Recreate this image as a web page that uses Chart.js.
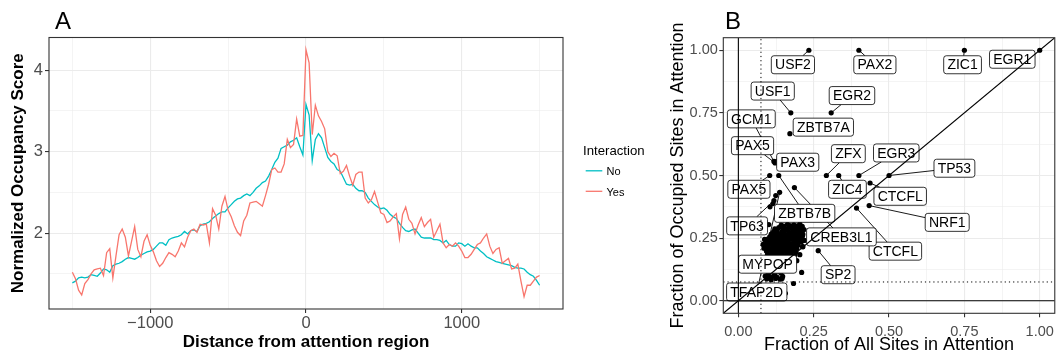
<!DOCTYPE html>
<html>
<head>
<meta charset="utf-8">
<script src="https://cdn.jsdelivr.net/npm/chart.js@4.4.1/dist/chart.umd.min.js"></script>
<style>
    html, body { margin: 0; padding: 0; background: #fff; }
    #wrap-a { position: absolute; left: 0; top: 0; width: 660px; height: 356px; }
    #wrap-b { position: absolute; left: 660px; top: 0; width: 400px; height: 356px; }
</style>
</head>
<body>
<div id="wrap-a"><canvas id="chart-occupancy"></canvas></div>
<div id="wrap-b"><canvas id="chart-fraction"></canvas></div>
<script>
const FONT = "'Liberation Sans', Arial, Helvetica, sans-serif";

// ---- panel A: occupancy around attention regions ----
const distance = [
    -1500, -1480, -1460, -1440, -1420, -1400, -1380, -1360, -1340, -1320,
    -1300, -1280, -1260, -1240, -1220, -1200, -1180, -1160, -1140, -1120,
    -1100, -1080, -1060, -1040, -1020, -1000, -980, -960, -940, -920,
    -900, -880, -860, -840, -820, -800, -780, -760, -740, -720,
    -700, -680, -660, -640, -620, -600, -580, -560, -540, -520,
    -500, -480, -460, -440, -420, -400, -380, -360, -340, -320,
    -300, -280, -260, -240, -220, -200, -180, -160, -140, -120,
    -100, -80, -60, -40, -20, 0, 20, 40, 60, 80,
    100, 120, 140, 160, 180, 200, 220, 240, 260, 280,
    300, 320, 340, 360, 380, 400, 420, 440, 460, 480,
    500, 520, 540, 560, 580, 600, 620, 640, 660, 680,
    700, 720, 740, 760, 780, 800, 820, 840, 860, 880,
    900, 920, 940, 960, 980, 1000, 1020, 1040, 1060, 1080,
    1100, 1120, 1140, 1160, 1180, 1200, 1220, 1240, 1260, 1280,
    1300, 1320, 1340, 1360, 1380, 1400, 1420, 1440, 1460, 1480,
    1500
];
const occupancyNo = [
    1.39, 1.41, 1.45, 1.46, 1.45, 1.46, 1.49, 1.48, 1.47, 1.51,
    1.56, 1.55, 1.52, 1.60, 1.62, 1.63, 1.65, 1.68, 1.70, 1.69,
    1.68, 1.70, 1.73, 1.75, 1.77, 1.78, 1.80, 1.84, 1.88, 1.88,
    1.85, 1.92, 1.94, 1.95, 1.96, 1.98, 2.02, 1.99, 2.03, 2.04,
    2.02, 2.09, 2.11, 2.12, 2.14, 2.18, 2.21, 2.24, 2.26, 2.26,
    2.31, 2.35, 2.39, 2.42, 2.43, 2.46, 2.48, 2.46, 2.50, 2.55,
    2.58, 2.62, 2.64, 2.70, 2.78, 2.87, 2.92, 3.04, 3.06, 3.08,
    3.12, 3.14, 3.17, 3.06, 2.96, 3.58, 3.45, 2.89, 3.15, 3.22,
    3.17, 3.05, 2.93, 2.88, 2.85, 2.78, 2.76, 2.68, 2.60, 2.59,
    2.60, 2.55, 2.52, 2.52, 2.50, 2.43, 2.39, 2.35, 2.32, 2.30,
    2.31, 2.28, 2.23, 2.20, 2.18, 2.12, 2.07, 2.03, 2.02, 2.04,
    2.05, 2.00, 1.95, 1.94, 1.94, 1.94, 1.92, 1.92, 1.91, 1.88,
    1.91, 1.86, 1.84, 1.84, 1.88, 1.87, 1.84, 1.87, 1.84, 1.82,
    1.82, 1.78, 1.75, 1.71, 1.69, 1.67, 1.65, 1.64, 1.63, 1.62,
    1.61, 1.60, 1.58, 1.57, 1.57, 1.56, 1.52, 1.49, 1.47, 1.42,
    1.36
];
const occupancyYes = [
    1.52, 1.44, 1.30, 1.24, 1.38, 1.43, 1.50, 1.55, 1.56, 1.57,
    1.48, 1.76, 1.81, 1.45, 1.72, 1.98, 2.05, 1.95, 1.72, 1.90,
    2.08, 1.80, 1.71, 1.90, 1.98, 1.85, 1.77, 1.66, 1.59, 1.63,
    1.70, 1.76, 1.74, 1.71, 1.78, 1.88, 1.83, 1.95, 2.03, 2.05,
    2.01, 2.11, 2.10, 2.11, 1.88, 2.30, 2.22, 2.05, 2.33, 2.45,
    2.28, 2.20, 2.09, 2.01, 1.97, 2.15, 2.22, 2.37, 2.38, 2.39,
    2.36, 2.33, 2.46, 2.60, 2.78, 2.80, 2.75, 2.75, 2.85, 3.15,
    3.05, 3.09, 3.40, 3.19, 3.20, 4.25, 4.09, 3.21, 3.57, 3.44,
    3.37, 3.28, 3.00, 2.94, 2.98, 2.95, 2.73, 2.76, 2.83, 2.70,
    2.59, 2.72, 2.75, 2.75, 2.43, 2.37, 2.41, 2.51, 2.38, 2.25,
    2.23, 2.13, 2.15, 2.20, 2.24, 1.93, 2.23, 2.32, 2.17, 2.12,
    1.99, 2.10, 2.19, 2.08, 2.13, 2.17, 1.95, 2.03, 2.11, 1.88,
    1.82, 1.86, 1.84, 1.88, 1.84, 1.78, 1.70, 1.70, 1.74, 1.80,
    1.86, 1.88, 1.94, 1.99, 1.84, 1.75, 1.80, 1.82, 1.63, 1.66,
    1.69, 1.56, 1.57, 1.62, 1.41, 1.22, 1.36, 1.36, 1.41, 1.46,
    1.48
];
const distanceTicks = [-1500, -1000, -500, 0, 500, 1000, 1500];
const distanceMajor = [-1000, 0, 1000];
const scoreTicks = [1.5, 2, 2.5, 3, 3.5, 4];
const scoreMajor = [2, 3, 4];

// ---- panel B: fraction of sites in attention ----
const tfName = ['USF2', 'PAX2', 'ZIC1', 'EGR1', 'USF1', 'EGR2', 'ZBTB7A', 'GCM1',
    'PAX5', 'PAX3', 'ZFX', 'EGR3', 'TP53', 'ZIC4', 'CTCFL', 'NRF1',
    'CTCFL', 'CREB3L1', 'ZBTB7B', 'PAX5', 'TP63', 'MYPOP', 'SP2', 'TFAP2D'];
const tfAllFrac = [0.234, 0.400, 0.750, 1.000, 0.174, 0.308, 0.171, 0.118,
    0.122, 0.128, 0.292, 0.400, 0.500, 0.333, 0.437, 0.434,
    0.392, 0.186, 0.134, 0.104, 0.118, 0.120, 0.265, 0.137];
const tfOccFrac = [1.000, 1.000, 1.000, 1.000, 0.750, 0.750, 0.667, 0.556,
    0.550, 0.556, 0.500, 0.500, 0.500, 0.500, 0.470, 0.380,
    0.370, 0.452, 0.500, 0.500, 0.400, 0.120, 0.200, 0.433];
// where the repelled labels ended up, in data units
const labelAllFrac = [0.181, 0.453, 0.744, 0.909, 0.114, 0.377, 0.282, 0.043,
    0.047, 0.197, 0.365, 0.524, 0.717, 0.362, 0.537, 0.693,
    0.521, 0.342, 0.220, 0.035, 0.029, 0.097, 0.331, 0.061];
const labelOccFrac = [0.942, 0.942, 0.942, 0.964, 0.837, 0.819, 0.693, 0.726,
    0.619, 0.553, 0.587, 0.590, 0.529, 0.445, 0.417, 0.313,
    0.198, 0.255, 0.349, 0.445, 0.299, 0.146, 0.104, 0.035];

const otherAllFrac = [
    0.142, 0.151, 0.163, 0.171, 0.184, 0.196, 0.204, 0.212,
    0.121, 0.134, 0.147, 0.157, 0.167, 0.179, 0.191, 0.201, 0.209, 0.218,
    0.117, 0.129, 0.144, 0.154, 0.166, 0.175, 0.187, 0.197, 0.206,
    0.109, 0.124, 0.137, 0.151, 0.161, 0.173, 0.182, 0.194, 0.203, 0.214,
    0.104, 0.117, 0.131, 0.142, 0.156, 0.168, 0.179, 0.189, 0.199, 0.211,
    0.097, 0.111, 0.124, 0.136, 0.149, 0.159, 0.171, 0.184, 0.194, 0.204, 0.219,
    0.094, 0.107, 0.119, 0.132, 0.144, 0.154, 0.166, 0.177, 0.189, 0.199, 0.209,
    0.091, 0.102, 0.114, 0.127, 0.139, 0.151, 0.162, 0.174, 0.186, 0.197,
    0.089, 0.099, 0.111, 0.123, 0.136, 0.147, 0.159, 0.171, 0.182, 0.194, 0.213,
    0.093, 0.105, 0.117, 0.129, 0.141, 0.154, 0.166, 0.179, 0.191,
    0.097, 0.109, 0.121, 0.134, 0.146, 0.159, 0.174, 0.187, 0.204,
    0.101, 0.114, 0.127, 0.139, 0.152, 0.167, 0.181,
    0.105, 0.119, 0.132, 0.145, 0.159, 0.175, 0.194,
    0.111, 0.124, 0.137, 0.151, 0.169,
    0.107, 0.129, 0.144, 0.164,
    0.114, 0.134, 0.154,
    0.099, 0.121, 0.141,
    0.089, 0.104, 0.117, 0.129, 0.147,
    0.094, 0.109, 0.124, 0.139,
    0.183, 0.210, 0.156, 0.207, 0.214, 0.213, 0.082, 0.085, 0.087,
    0.115, 0.105, 0.124, 0.101, 0.145
];
const otherOccFrac = [
    0.302, 0.298, 0.305, 0.300, 0.303, 0.299, 0.306, 0.297,
    0.287, 0.292, 0.289, 0.285, 0.293, 0.288, 0.291, 0.286, 0.291, 0.284,
    0.276, 0.279, 0.274, 0.281, 0.277, 0.272, 0.279, 0.274, 0.278,
    0.266, 0.269, 0.264, 0.268, 0.262, 0.267, 0.263, 0.268, 0.262, 0.266,
    0.255, 0.258, 0.253, 0.259, 0.254, 0.257, 0.251, 0.256, 0.252, 0.257,
    0.246, 0.243, 0.247, 0.242, 0.245, 0.241, 0.246, 0.243, 0.240, 0.245, 0.241,
    0.235, 0.232, 0.236, 0.231, 0.234, 0.229, 0.233, 0.228, 0.234, 0.230, 0.236,
    0.223, 0.226, 0.221, 0.225, 0.219, 0.223, 0.218, 0.224, 0.219, 0.222,
    0.211, 0.214, 0.209, 0.213, 0.208, 0.212, 0.207, 0.211, 0.206, 0.210, 0.216,
    0.199, 0.203, 0.198, 0.201, 0.196, 0.200, 0.195, 0.199, 0.194,
    0.188, 0.185, 0.189, 0.184, 0.187, 0.182, 0.186, 0.181, 0.184,
    0.174, 0.177, 0.172, 0.175, 0.170, 0.174, 0.169,
    0.162, 0.159, 0.163, 0.158, 0.161, 0.156, 0.160,
    0.147, 0.150, 0.145, 0.148, 0.143,
    0.134, 0.131, 0.135, 0.129,
    0.121, 0.118, 0.122,
    0.109, 0.106, 0.111,
    0.098, 0.095, 0.099, 0.093, 0.097,
    0.087, 0.084, 0.089, 0.086,
    0.069, 0.113, 0.030, 0.291, 0.216, 0.260, 0.225, 0.210, 0.245,
    0.388, 0.375, 0.420, 0.304, 0.089
];
const fracTicks = [0, 0.125, 0.25, 0.375, 0.5, 0.625, 0.75, 0.875, 1];
const fracMajor = [0, 0.25, 0.5, 0.75, 1];
const fracCut = 0.075;

const distLim = [-1650, 1650];
const scoreLim = [1.0685, 4.4015];
const fracLim = [-0.05, 1.05];

const isIn = (arr, v) => arr.some(m => Math.abs(m - v) < 1e-9);

// full panel border, ggplot style
const panelBorder = {
    id: 'panelBorder',
    afterDatasetsDraw(chart) {
        const a = chart.chartArea, ctx = chart.ctx;
        ctx.save();
        ctx.strokeStyle = '#333333';
        ctx.lineWidth = 1.1;
        ctx.strokeRect(a.left, a.top, a.right - a.left, a.bottom - a.top);
        ctx.restore();
    }
};

function gridFor(major) {
    return {
        color: '#EBEBEB',
        lineWidth: c => (c.tick && isIn(major, c.tick.value)) ? 1.1 : 0.55,
        tickColor: c => (c.tick && isIn(major, c.tick.value)) ? '#333333' : 'rgba(0,0,0,0)',
        tickLength: 4,
        drawTicks: true
    };
}

// ---------------- chart A ----------------
const extrasA = {
    id: 'extrasA',
    afterDraw(chart) {
        const ctx = chart.ctx;
        ctx.save();
        ctx.fillStyle = '#000';
        ctx.textAlign = 'left';
        ctx.textBaseline = 'alphabetic';
        ctx.font = '24px ' + FONT;
        ctx.fillText('A', 55, 29.3);

        // legend
        ctx.font = '13.2px ' + FONT;
        ctx.fillText('Interaction', 583, 154.8);
        const keyY = [170.8, 191.3];
        const textY = [175.2, 195.6];
        ctx.font = '11px ' + FONT;
        chart.data.datasets.forEach((ds, i) => {
            ctx.strokeStyle = ds.borderColor;
            ctx.lineWidth = 1.3;
            ctx.beginPath();
            ctx.moveTo(585.7, keyY[i]);
            ctx.lineTo(602.3, keyY[i]);
            ctx.stroke();
            ctx.fillStyle = '#000';
            ctx.fillText(ds.label, 606.5, textY[i]);
        });
        ctx.restore();
    }
};

const ctxA = document.getElementById('chart-occupancy').getContext('2d');
const chartA = new Chart(ctxA, {
    type: 'line',
    data: {
        datasets: [
            {
                label: 'No',
                borderColor: '#00BFC4',
                borderWidth: 1.3,
                pointRadius: 0,
                order: 2,
                data: distance.map((d, i) => ({ x: d, y: occupancyNo[i] }))
            },
            {
                label: 'Yes',
                borderColor: '#F8766D',
                borderWidth: 1.3,
                pointRadius: 0,
                order: 1,
                data: distance.map((d, i) => ({ x: d, y: occupancyYes[i] }))
            }
        ]
    },
    options: {
        responsive: true,
        maintainAspectRatio: false,
        animation: false,
        layout: { padding: { top: 37.5, right: 97, bottom: 0, left: 0 } },
        plugins: { legend: { display: false }, tooltip: { enabled: false } },
        scales: {
            x: {
                type: 'linear',
                min: distLim[0], max: distLim[1],
                afterBuildTicks: s => { s.ticks = distanceTicks.map(v => ({ value: v })); },
                afterFit: s => { s.height = 47; },
                grid: gridFor(distanceMajor),
                border: { display: false },
                ticks: {
                    autoSkip: false, maxRotation: 0, padding: 1,
                    color: '#4D4D4D', font: { family: FONT, size: 16.5 },
                    callback: v => isIn(distanceMajor, v) ? String(v).replace('-', '\u2212') : ''
                },
                title: {
                    display: true, text: 'Distance from attention region', color: '#000',
                    font: { family: FONT, size: 17, weight: 'bold' },
                    padding: { top: 0, bottom: 3.8 }
                }
            },
            y: {
                type: 'linear',
                min: scoreLim[0], max: scoreLim[1],
                afterBuildTicks: s => { s.ticks = scoreTicks.map(v => ({ value: v })); },
                afterFit: s => { s.width = 49; },
                grid: gridFor(scoreMajor),
                border: { display: false },
                ticks: {
                    autoSkip: false, padding: 2,
                    color: '#4D4D4D', font: { family: FONT, size: 16.5 },
                    callback: v => isIn(scoreMajor, v) ? String(v) : ''
                },
                title: {
                    display: true, text: 'Normalized Occupancy Score', color: '#000',
                    font: { family: FONT, size: 17, weight: 'bold' },
                    padding: { top: 8.6, bottom: 0 }
                }
            }
        }
    },
    plugins: [panelBorder, extrasA]
});

// ---------------- chart B ----------------
// repelled labels with their segments, drawn right after the points
const repelLabels = {
    id: 'repelLabels',
    afterDatasetDraw(chart, args) {
        if (args.index !== 0) return;
        const ctx = chart.ctx, xs = chart.scales.x, ys = chart.scales.y, a = chart.chartArea;
        ctx.save();
        ctx.beginPath();
        ctx.rect(a.left, a.top, a.right - a.left, a.bottom - a.top);
        ctx.clip();
        ctx.font = '14px ' + FONT;
        const boxes = tfName.map((name, i) => {
            const w = ctx.measureText(name).width + 7.4;
            return {
                name, w, h: 18,
                cx: xs.getPixelForValue(labelAllFrac[i]),
                cy: ys.getPixelForValue(labelOccFrac[i]),
                px: xs.getPixelForValue(tfAllFrac[i]),
                py: ys.getPixelForValue(tfOccFrac[i])
            };
        });
        // segments
        ctx.strokeStyle = '#000';
        ctx.lineWidth = 0.9;
        boxes.forEach(b => {
            const dx = b.px - b.cx, dy = b.py - b.cy;
            const hw = b.w / 2, hh = b.h / 2;
            if (Math.abs(dx) <= hw && Math.abs(dy) <= hh) return;
            const t = Math.min(dx !== 0 ? hw / Math.abs(dx) : Infinity, dy !== 0 ? hh / Math.abs(dy) : Infinity);
            const sx = b.cx + dx * t, sy = b.cy + dy * t;
            if (Math.hypot(b.px - sx, b.py - sy) < 5) return;
            ctx.beginPath();
            ctx.moveTo(sx, sy);
            ctx.lineTo(b.px, b.py);
            ctx.stroke();
        });
        // boxes
        boxes.forEach(b => {
            const x0 = b.cx - b.w / 2, y0 = b.cy - b.h / 2;
            ctx.beginPath();
            ctx.roundRect(x0, y0, b.w, b.h, 2.6);
            ctx.fillStyle = '#fff';
            ctx.fill();
            ctx.strokeStyle = '#000';
            ctx.lineWidth = 0.8;
            ctx.stroke();
            ctx.fillStyle = '#000';
            ctx.textAlign = 'center';
            ctx.textBaseline = 'middle';
            ctx.fillText(b.name, b.cx, b.cy + 0.8);
        });
        ctx.restore();
    }
};

const extrasB = {
    id: 'extrasB',
    afterDraw(chart) {
        const ctx = chart.ctx, a = chart.chartArea;
        ctx.save();
        ctx.fillStyle = '#000';
        ctx.textBaseline = 'alphabetic';
        ctx.textAlign = 'left';
        ctx.font = '24px ' + FONT;
        ctx.fillText('B', 65, 29.3);
        // long y title, drawn by hand so it is not squeezed to the axis height
        ctx.font = '18px ' + FONT;
        ctx.translate(23, (a.top + a.bottom) / 2);
        ctx.rotate(-Math.PI / 2);
        ctx.textAlign = 'center';
        ctx.fillText('Fraction of Occupied Sites in Attention', 0, 0);
        ctx.restore();
    }
};

const refLine = (pts, dash) => ({
    type: 'line',
    data: pts,
    borderColor: '#000',
    borderWidth: dash ? 1 : 1.1,
    borderDash: dash ? [1.2, 3] : [],
    pointRadius: 0,
    showLine: true,
    fill: false,
    order: 1
});

const ctxB = document.getElementById('chart-fraction').getContext('2d');
const chartB = new Chart(ctxB, {
    type: 'scatter',
    data: {
        datasets: [
            {
                label: 'TF',
                data: tfAllFrac.map((v, i) => ({ x: v, y: tfOccFrac[i] }))
                    .concat(otherAllFrac.map((v, i) => ({ x: v, y: otherOccFrac[i] }))),
                backgroundColor: '#000',
                borderWidth: 0,
                pointRadius: 2.6,
                order: 10
            },
            refLine([{ x: 0, y: fracLim[0] }, { x: 0, y: fracLim[1] }], false),
            refLine([{ x: fracLim[0], y: 0 }, { x: fracLim[1], y: 0 }], false),
            refLine([{ x: fracCut, y: fracLim[0] }, { x: fracCut, y: fracLim[1] }], true),
            refLine([{ x: fracLim[0], y: fracCut }, { x: fracLim[1], y: fracCut }], true),
            refLine([{ x: fracLim[0], y: fracLim[0] }, { x: fracLim[1], y: fracLim[1] }], false)
        ]
    },
    options: {
        responsive: true,
        maintainAspectRatio: false,
        animation: false,
        layout: { padding: { top: 37.7, right: 0.5, bottom: 0, left: 0 } },
        plugins: { legend: { display: false }, tooltip: { enabled: false } },
        scales: {
            x: {
                type: 'linear',
                min: fracLim[0], max: fracLim[1],
                afterBuildTicks: s => { s.ticks = fracTicks.map(v => ({ value: v })); },
                afterFit: s => { s.height = 42.7; },
                grid: gridFor(fracMajor),
                border: { display: false },
                ticks: {
                    autoSkip: false, maxRotation: 0, padding: 6,
                    color: '#4D4D4D', font: { family: FONT, size: 14.5 },
                    callback: v => isIn(fracMajor, v) ? v.toFixed(2) : ''
                },
                title: {
                    display: true, text: 'Fraction of All Sites in Attention', color: '#000',
                    font: { family: FONT, size: 18 },
                    padding: { top: 0, bottom: 0.2 }
                }
            },
            y: {
                type: 'linear',
                min: fracLim[0], max: fracLim[1],
                afterBuildTicks: s => { s.ticks = fracTicks.map(v => ({ value: v })); },
                afterFit: s => { s.width = 63.3; },
                grid: gridFor(fracMajor),
                border: { display: false },
                ticks: {
                    autoSkip: false, padding: 1.5,
                    color: '#4D4D4D', font: { family: FONT, size: 14.5 },
                    callback: v => isIn(fracMajor, v) ? v.toFixed(2) : ''
                },
                title: { display: false }
            }
        }
    },
    plugins: [repelLabels, panelBorder, extrasB]
});
</script>
</body>
</html>
